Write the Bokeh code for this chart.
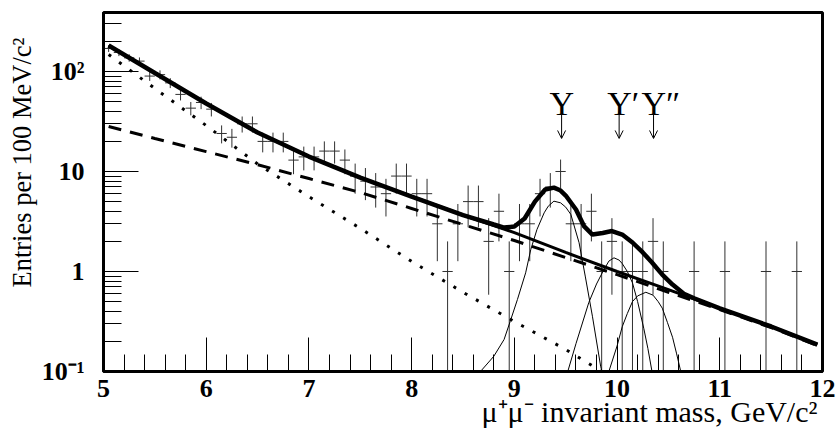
import numpy as np
from bokeh.plotting import figure
from bokeh.models import (FixedTicker, SingleIntervalTicker, Title, Arrow,
                          OpenHead, ColumnDataSource)
from bokeh.core.properties import value
from bokeh.embed import file_html
from bokeh.resources import INLINE

# ---------------- data ----------------
bin_centers = [round(5.05 + 0.1 * i, 2) for i in range(70)]
counts = [170, 155, 137, 127, 90, 93, 77, 59, 43, 49,
          42, 24, 22, 30, 30, 20, 20, 20, 13, 14,
          14, 16, 16, 13, 9, 8, 7, 6, 9, 9,
          6, 6, 3, 1, 3, 5, 5, 2, 4, 1,
          3, 3, 6, 7, 10, 3, 3, 4, 1, 2,
          1, 1, 1, 2, 1, 0, 0, 1, 0, 0,
          1, 0, 0, 0, 1, 0, 0, 1, 0, 0]

# background 1 (dotted)
dotted_x = [5.05, 5.5, 6.0, 6.5, 7.0, 7.5, 8.0, 8.5, 9.0, 9.5, 9.85, 9.95]
dotted_y = [148, 67.6, 28.8, 11.9, 5.6, 2.7, 1.26, 0.62, 0.316, 0.166, 0.1, 0.085]

# background 2 (dashed)
dashed_x = [5.05, 5.5, 6.0, 6.5, 7.0, 7.5, 8.0, 8.5, 9.0, 9.5, 10.0, 10.5, 11.0, 11.5, 11.95]
dashed_y = [28.2, 21.4, 15.8, 11.7, 8.5, 6.17, 4.27, 2.95, 2.04, 1.38, 0.93, 0.62, 0.417, 0.275, 0.182]

# total background (medium solid)
bkg_x = [5.05, 5.5, 6.0, 6.5, 7.0, 7.5, 8.0, 8.5, 9.0, 9.5, 10.0, 10.5, 11.0, 11.5, 11.95]
bkg_y = [182, 96.6, 47.9, 24.5, 14.1, 8.7, 5.62, 3.67, 2.45, 1.55, 1.0, 0.66, 0.427, 0.282, 0.186]

# total fit (thick solid)
fit_x = [5.05, 5.5, 6.0, 6.5, 7.0, 7.5, 8.0, 8.5, 8.8, 8.9, 9.0, 9.1, 9.2, 9.3, 9.385,
         9.45, 9.5, 9.6, 9.68, 9.76, 9.86, 9.95, 10.05, 10.15, 10.25, 10.34, 10.44,
         10.54, 10.65, 10.75, 11.0, 11.5, 11.95]
fit_y = [182, 96.6, 47.9, 24.5, 14.1, 8.7, 5.62, 3.67, 2.95, 2.75, 2.82, 3.39, 5.0, 6.6, 6.9,
         6.45, 5.75, 4.17, 2.82, 2.34, 2.43, 2.54, 2.34, 1.95, 1.55, 1.23, 0.93,
         0.74, 0.6, 0.54, 0.427, 0.282, 0.186]

# resonance components (thin)
ups1_x = [8.6, 8.67, 8.8, 8.9, 8.96, 9.03, 9.11, 9.16, 9.22, 9.29, 9.33, 9.385, 9.45, 9.5,
          9.55, 9.63, 9.69, 9.76, 9.84, 9.87]
ups1_y = [0.08, 0.1, 0.142, 0.209, 0.318, 0.525, 0.97, 1.66, 2.63, 3.86, 4.5, 5.05, 4.86, 4.4,
          3.72, 1.94, 0.90, 0.357, 0.113, 0.085]
ups2_x = [9.48, 9.52, 9.6, 9.725, 9.8, 9.86, 9.92, 9.97, 10.02, 10.05, 10.1, 10.15, 10.2,
          10.26, 10.3, 10.34, 10.37]
ups2_y = [0.08, 0.1, 0.19, 0.49, 0.75, 0.99, 1.27, 1.37, 1.3, 1.2, 1.0, 0.77, 0.5,
          0.27, 0.17, 0.1, 0.08]
ups3_x = [9.88, 9.92, 10.0, 10.05, 10.1, 10.15, 10.2, 10.28, 10.35, 10.4, 10.44, 10.49,
          10.54, 10.58, 10.62, 10.65]
ups3_y = [0.08, 0.1, 0.18, 0.28, 0.38, 0.5, 0.57, 0.62, 0.58, 0.5, 0.43, 0.31,
          0.22, 0.15, 0.1, 0.08]

res_mass = [9.46, 10.02, 10.355]
res_labels = ["Υ", "Υ′", "Υ″"]

y_ticks = [0.1, 1, 10, 100]
y_tick_labels = ["10⁻¹", "1", "10", "10²"]

x_title = "μ⁺μ⁻ invariant mass, GeV/c²"
y_title = "Entries per 100 MeV/c²"

# ---------------- figure ----------------
FONT = "Liberation Serif"
p = figure(width=837, height=436, x_range=(5, 12), y_range=(0.1, 389),
           y_axis_type="log", output_backend="svg", toolbar_location=None,
           min_border_left=103, min_border_right=15, min_border_top=12,
           min_border_bottom=65)
p.grid.visible = False
p.outline_line_color = "black"
p.outline_line_width = 3
p.background_fill_color = "white"
p.border_fill_color = "white"

xa = p.xaxis[0]
xa.ticker = SingleIntervalTicker(interval=1, num_minor_ticks=5)
xa.major_tick_in = 34
xa.major_tick_out = 0
xa.minor_tick_in = 17
xa.minor_tick_out = 0
xa.major_tick_line_width = 1
xa.minor_tick_line_width = 1
xa.axis_line_width = 3
xa.major_label_text_font = FONT
xa.major_label_text_font_style = "bold"
xa.major_label_text_font_size = "26px"
xa.major_label_text_color = "black"
xa.major_label_standoff = 8

ya = p.yaxis[0]
minor = [0.2, 0.3, 0.4, 0.5, 0.6, 0.7, 0.8, 0.9,
         2, 3, 4, 5, 6, 7, 8, 9, 20, 30, 40, 50, 60, 70, 80, 90, 200, 300]
ya.ticker = FixedTicker(ticks=y_ticks, minor_ticks=minor)
ya.major_label_overrides = {t: l for t, l in zip(y_ticks, y_tick_labels)}
ya.major_tick_in = 35
ya.major_tick_out = 0
ya.minor_tick_in = 18
ya.minor_tick_out = 0
ya.major_tick_line_width = 1
ya.minor_tick_line_width = 1
ya.axis_line_width = 3
ya.major_label_text_font = FONT
ya.major_label_text_font_style = "bold"
ya.major_label_text_font_size = "26px"
ya.major_label_text_color = "black"
ya.major_label_standoff = 19

# axis titles as side-panel titles
p.add_layout(Title(text=x_title, align="right", offset=5, standoff=-13,
                   text_font=FONT, text_font_style="normal",
                   text_font_size="30px", text_color="black"), "below")
p.add_layout(Title(text=y_title, align="right", offset=25, standoff=4,
                   text_font=FONT, text_font_style="normal",
                   text_font_size="26.5px", text_color="black"), "left")

# ---------------- data crosses ----------------
xc = np.array(bin_centers)
n = np.array(counts, dtype=float)
mask = n > 0
xc, n = xc[mask], n[mask]
err = np.sqrt(n)
lo = np.where(n - err > 0, n - err, 0.01)
hi = n + err
src = ColumnDataSource(dict(x=xc, n=n, lo=lo, hi=hi, x0=xc - 0.05, x1=xc + 0.05))
p.segment(x0="x", y0="lo", x1="x", y1="hi", source=src, line_color="#303030", line_width=1)
p.segment(x0="x0", y0="n", x1="x1", y1="n", source=src, line_color="#303030", line_width=1)

# ---------------- fit curves ----------------
p.line(ups1_x, ups1_y, line_color="black", line_width=1)
p.line(ups2_x, ups2_y, line_color="black", line_width=1)
p.line(ups3_x, ups3_y, line_color="black", line_width=1)
p.line(dotted_x, dotted_y, line_color="black", line_width=3, line_dash="3 10")
p.line(dashed_x, dashed_y, line_color="black", line_width=3, line_dash="13 9")
p.line(bkg_x, bkg_y, line_color="black", line_width=3)
p.line(fit_x, fit_y, line_color="black", line_width=4.5)

# ---------------- resonance labels and arrows ----------------
p.text(x=res_mass, y=[47.9] * 3, text=res_labels, text_font=value(FONT),
       text_font_size="34px", text_align="left", text_baseline="alphabetic",
       x_offset=-12, text_color="black")
for m in res_mass:
    p.add_layout(Arrow(end=OpenHead(size=8, line_width=1, line_color="black"),
                       x_start=m, y_start=39.8, x_end=m, y_end=21.4,
                       line_width=1, line_color="black"))

open("out.html", "w").write(file_html(p, INLINE))
